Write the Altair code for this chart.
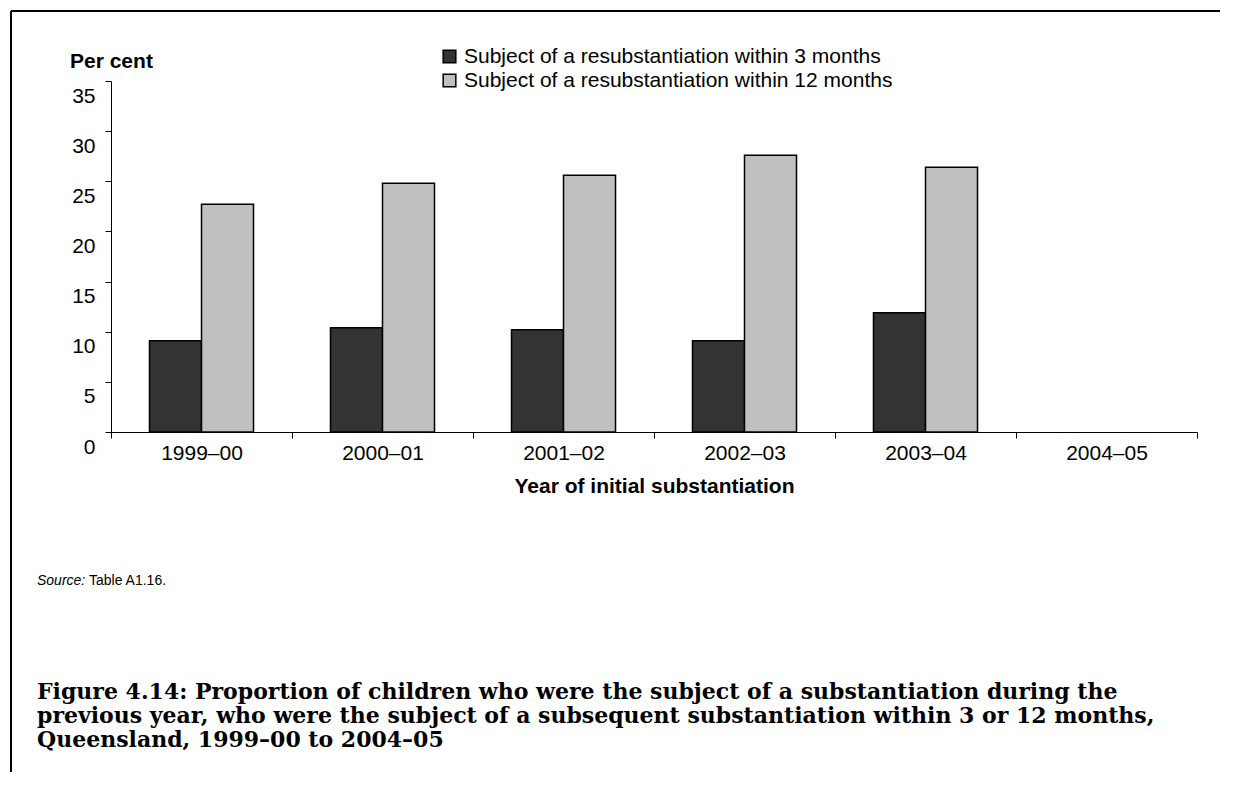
import altair as alt
import pandas as pd

years = ["1999–00", "2000–01", "2001–02", "2002–03", "2003–04", "2004–05"]
series = ["Subject of a resubstantiation within 3 months",
          "Subject of a resubstantiation within 12 months"]
within3 = [9.1, 10.4, 10.2, 9.1, 11.9, None]
within12 = [22.7, 24.8, 25.6, 27.6, 26.4, None]
y_ticks = [0, 5, 10, 15, 20, 25, 30, 35]
colors = ["#333333", "#c0c0c0"]

rows = []
for y, a, b in zip(years, within3, within12):
    if a is not None:
        rows.append({"year": y, "series": series[0], "value": a})
    if b is not None:
        rows.append({"year": y, "series": series[1], "value": b})
df = pd.DataFrame(rows)

FONT = "Liberation Sans"

bars = alt.Chart(df).mark_bar(stroke="black", strokeWidth=1.5).encode(
    x=alt.X("year:N", scale=alt.Scale(domain=years, paddingInner=0, paddingOuter=0),
            axis=alt.Axis(title="Year of initial substantiation", labelAngle=0, tickBand="extent",
                          domainColor="black", tickColor="black", tickSize=6,
                          labelFont=FONT, labelFontSize=21, labelColor="black", labelPadding=4,
                          titleFont=FONT, titleFontSize=21, titleFontWeight="bold",
                          titleColor="black", titlePadding=12)),
    xOffset=alt.XOffset("series:N", scale=alt.Scale(domain=series, paddingInner=0, paddingOuter=0.74)),
    y=alt.Y("value:Q", scale=alt.Scale(domain=[0, 35]),
            axis=alt.Axis(title=None, values=y_ticks, grid=False, domainColor="black",
                          tickColor="black", tickSize=6, labelFont=FONT, labelFontSize=21,
                          labelColor="black", labelPadding=10, labelOffset=15)),
    color=alt.Color("series:N", scale=alt.Scale(domain=series, range=colors),
                    legend=alt.Legend(title=None, orient="none", legendX=328, legendY=-35,
                                      symbolType="square", symbolSize=160,
                                      symbolStrokeColor="black", symbolStrokeWidth=1.5,
                                      labelFont=FONT, labelFontSize=21, labelColor="black",
                                      rowPadding=2, padding=0, labelOffset=4, labelLimit=600)),
)

per_cent = alt.Chart(pd.DataFrame({"t": ["Per cent"]})).mark_text(
    font=FONT, fontSize=21, fontWeight="bold", align="left", baseline="middle", color="black"
).encode(text="t:N", x=alt.value(-41), y=alt.value(-19))

source_a = alt.Chart(pd.DataFrame({"t": ["Source:"]})).mark_text(
    font=FONT, fontSize=14, fontStyle="italic", align="left", baseline="middle", color="black"
).encode(text="t:N", x=alt.value(-74), y=alt.value(500))
source_b = alt.Chart(pd.DataFrame({"t": ["Table A1.16."]})).mark_text(
    font=FONT, fontSize=14, align="left", baseline="middle", color="black"
).encode(text="t:N", x=alt.value(-22), y=alt.value(500))

caption = ("Figure 4.14: Proportion of children who were the subject of a substantiation during the\n"
           "previous year, who were the subject of a subsequent substantiation within 3 or 12 months,\n"
           "Queensland, 1999–00 to 2004–05")
cap = alt.Chart(pd.DataFrame({"t": [caption]})).mark_text(
    font="DejaVu Serif", fontSize=22, fontWeight="bold", align="left", baseline="middle",
    color="black", lineBreak="\n", lineHeight=24
).encode(text="t:N", x=alt.value(-74), y=alt.value(611))

one = pd.DataFrame({"k": [0]})
vline = alt.Chart(one).mark_rule(color="black", strokeWidth=2).encode(
    x=alt.value(-100), y=alt.value(-70), y2=alt.value(800))
hline = alt.Chart(one).mark_rule(color="black", strokeWidth=2).encode(
    x=alt.value(-100), x2=alt.value(1109), y=alt.value(-70))

chart = alt.layer(bars, per_cent, source_a, source_b, cap, vline, hline).properties(
    width=1086, height=351,
    autosize=alt.AutoSizeParams(type="none"),
    padding={"left": 103, "top": 73, "right": 31, "bottom": 340},
    background="white",
).configure_view(stroke=None)

chart.save("out.html", embed_options={"renderer": "svg", "actions": False})
